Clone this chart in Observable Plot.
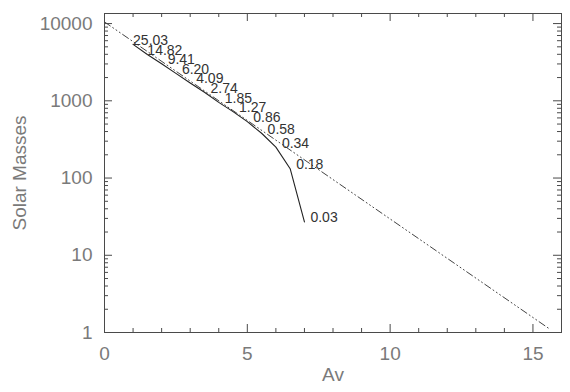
<!DOCTYPE html>
<html>
<head>
<meta charset="utf-8">
<script src="https://cdn.jsdelivr.net/npm/d3@7"></script>
<script src="https://cdn.jsdelivr.net/npm/@observablehq/plot@0.6"></script>
<style>
  html, body { margin: 0; padding: 0; background: #fff; }
  #chart svg { display: block; }
</style>
</head>
<body>
<div id="chart"></div>
<script>
// Solid curve (Av vs Solar Masses)
const curveAv   = [1.0, 1.5, 2.0, 2.5, 3.0, 3.5, 4.0, 4.5, 5.0, 5.5, 6.0, 6.5, 7.0];
const curveMass = [5370, 3980, 3020, 2265, 1700, 1290, 955, 724, 537, 380, 251, 132, 27];
const curveLabels = ["25.03", "14.82", "9.41", "6.20", "4.09", "2.74", "1.85", "1.27", "0.86", "0.58", "0.34", "0.18", "0.03"];
// Dash-dot-dot-dot reference line (end points)
const refAv   = [0, 15.6];
const refMass = [10500, 1.1];
// Axis ticks
const xMajor = [0, 5, 10, 15];
const xMinor = [1, 2, 3, 4, 6, 7, 8, 9, 11, 12, 13, 14, 16];
const yMajor = [1, 10, 100, 1000, 10000];
const yMinor = [2, 3, 4, 5, 6, 7, 8, 9, 20, 30, 40, 50, 60, 70, 80, 90,
                200, 300, 400, 500, 600, 700, 800, 900, 2000, 3000, 4000, 5000, 6000, 7000, 8000, 9000];

const curve = curveAv.map((a, i) => ({av: a, mass: curveMass[i], label: curveLabels[i]}));
const ref = refAv.map((a, i) => ({av: a, mass: refMass[i]}));

const W = 570, H = 392, ML = 104, MR = 9, MT = 13, MB = 60;
const FW = W - ML - MR, FH = H - MT - MB;
const lineColor = "#4a4a4a";
const textColor = "#7a7a7a";
const MAJ = 8, MIN = 4;

const tickMarks = [];
for (const [ticks, len] of [[xMajor, MAJ], [xMinor, MIN]]) {
  tickMarks.push(Plot.ruleX(ticks, {x: d => d, insetTop: FH - len, stroke: lineColor}));
  tickMarks.push(Plot.ruleX(ticks, {x: d => d, insetBottom: FH - len, stroke: lineColor}));
}
for (const [ticks, len] of [[yMajor, MAJ], [yMinor, MIN]]) {
  tickMarks.push(Plot.ruleY(ticks, {y: d => d, insetRight: FW - len, stroke: lineColor}));
  tickMarks.push(Plot.ruleY(ticks, {y: d => d, insetLeft: FW - len, stroke: lineColor}));
}

const chart = Plot.plot({
  width: W,
  height: H,
  marginLeft: ML,
  marginRight: MR,
  marginTop: MT,
  marginBottom: MB,
  style: {fontFamily: "'Liberation Sans', Arial, sans-serif", background: "#fff"},
  x: {domain: [0, 16]},
  y: {type: "log", domain: [1, 13500]},
  marks: [
    Plot.axisX(xMajor, {anchor: "bottom", tickSize: 0, tickPadding: 14, fontSize: 19, fill: textColor,
      tickFormat: d => String(d), label: "Av", labelAnchor: "center", labelArrow: "none", labelOffset: 48}),
    Plot.axisY(yMajor, {anchor: "left", tickSize: 0, tickPadding: 12, fontSize: 19, fill: textColor,
      tickFormat: d => String(d), label: "Solar Masses", labelAnchor: "center", labelArrow: "none", labelOffset: 92}),
    ...tickMarks,
    Plot.frame({stroke: lineColor, strokeWidth: 1}),
    Plot.line(ref, {x: "av", y: "mass", stroke: "#444", strokeWidth: 1,
      strokeDasharray: "7,3,1,3,1,3,1,3"}),
    Plot.line(curve, {x: "av", y: "mass", stroke: "#222", strokeWidth: 1.1}),
    Plot.text(curve.slice(0, 2), {x: "av", y: "mass", text: "label", textAnchor: "start", dx: 0, dy: -4,
      fontSize: 14, fill: "#333"}),
    Plot.text(curve.slice(2), {x: "av", y: "mass", text: "label", textAnchor: "start", dx: 6, dy: -4,
      fontSize: 14, fill: "#333"})
  ]
});

document.getElementById("chart").appendChild(chart);
chart.querySelectorAll("g[aria-label='x-axis label'] text, g[aria-label='y-axis label'] text").forEach(t => {
  t.setAttribute("font-size", 19);
  t.setAttribute("fill", textColor);
});
</script>
</body>
</html>
